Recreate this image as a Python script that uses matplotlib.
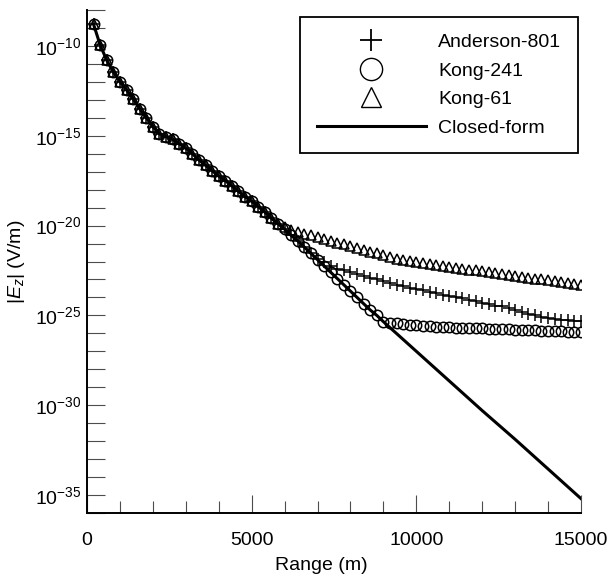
import matplotlib.pyplot as plt
import matplotlib.ticker as mticker
import numpy as np
from matplotlib.lines import Line2D

plt.rcParams["font.family"] = ["Liberation Sans", "DejaVu Sans"]
plt.rcParams["mathtext.fontset"] = "custom"
plt.rcParams["mathtext.rm"] = "Liberation Sans"
plt.rcParams["mathtext.it"] = "Liberation Sans:italic"

# Marker positions (m), one symbol every 200 m
range_m = np.arange(200, 15001, 200)

# log10 |Ez| of the closed-form solution, 200 m .. 9000 m
closed_near = [
    -8.8, -9.95, -10.8, -11.45, -12.0, -12.45, -12.95, -13.5, -14.0, -14.5,
    -14.9, -15.05, -15.2, -15.45, -15.7, -16.0, -16.35, -16.65, -16.95, -17.25,
    -17.5, -17.8, -18.1, -18.4, -18.65, -18.95, -19.25, -19.6, -19.9, -20.2,
    -20.55, -20.85, -21.2, -21.55, -21.9, -22.25, -22.6, -22.95, -23.3, -23.65,
    -24.0, -24.35, -24.7, -25.0, -25.35,
]
# straight part of the closed-form curve beyond 9000 m
closed_far_range = [10000, 11000, 12000, 13000, 14000, 15000]
closed_far = [-27.0, -28.65, -30.3, -31.9, -33.55, -35.2]

# where the numerical results leave the closed-form curve
kong61_tail = [  # 6000 .. 15000 m
    -20.1, -20.25, -20.35, -20.45, -20.55, -20.65, -20.75, -20.85, -20.95, -21.05,
    -21.15, -21.25, -21.35, -21.45, -21.55, -21.65, -21.75, -21.85, -21.9, -21.95,
    -22.05, -22.1, -22.15, -22.2, -22.25, -22.3, -22.35, -22.4, -22.45, -22.5,
    -22.55, -22.6, -22.65, -22.7, -22.75, -22.8, -22.85, -22.9, -22.95, -23.0,
    -23.05, -23.1, -23.15, -23.2, -23.25, -23.3,
]
anderson_tail = [  # 7000 .. 15000 m
    -21.85, -22.05, -22.25, -22.4, -22.5, -22.6, -22.7, -22.8, -22.9, -23.0,
    -23.1, -23.2, -23.3, -23.35, -23.45, -23.55, -23.6, -23.7, -23.75, -23.85,
    -23.9, -24.0, -24.05, -24.15, -24.2, -24.3, -24.35, -24.45, -24.5, -24.6,
    -24.7, -24.8, -24.9, -25.0, -25.1, -25.15, -25.2, -25.25, -25.25, -25.3,
    -25.3,
]
kong241_tail = [  # 9200 .. 15000 m
    -25.4, -25.45, -25.5, -25.55, -25.55, -25.6, -25.6, -25.65, -25.65, -25.65,
    -25.7, -25.7, -25.7, -25.7, -25.7, -25.75, -25.75, -25.75, -25.75, -25.8,
    -25.8, -25.8, -25.8, -25.85, -25.85, -25.85, -25.85, -25.9, -25.9, -25.95,
]

anderson = closed_near[:34] + anderson_tail
kong241 = closed_near[:45] + kong241_tail
kong61 = closed_near[:29] + kong61_tail

closed_range = list(range_m[:45]) + closed_far_range
closed = closed_near + closed_far

fig = plt.figure(figsize=(6.11, 5.8), dpi=100)
ax = fig.add_axes([87 / 611, 1 - 513 / 580, 494 / 611, 503 / 580])

marker_kw = dict(linestyle="none", color="black", markerfacecolor="none", markeredgewidth=1.1)
ax.semilogy(range_m, 10.0 ** np.array(kong61), marker="^", markersize=7.5, **marker_kw)
ax.semilogy(range_m, 10.0 ** np.array(kong241), marker="o", markersize=7.5, **marker_kw)
ax.semilogy(range_m, 10.0 ** np.array(anderson), marker="+", markersize=8.5, **marker_kw)
ax.semilogy(closed_range, 10.0 ** np.array(closed), color="black", linewidth=2.2, zorder=5)

ax.set_xlim(0, 15000)
ax.set_ylim(1e-36, 1e-8)

ax.xaxis.set_major_locator(mticker.MultipleLocator(5000))
ax.xaxis.set_minor_locator(mticker.MultipleLocator(1000))
ax.yaxis.set_major_locator(mticker.FixedLocator([10.0 ** k for k in (-35, -30, -25, -20, -15, -10)]))
ax.yaxis.set_minor_locator(mticker.FixedLocator([10.0 ** k for k in range(-36, -7)]))
ax.yaxis.set_major_formatter(
    mticker.FuncFormatter(lambda v, p: r"$\mathregular{10^{%d}}$" % round(np.log10(v)))
)
ax.yaxis.set_minor_formatter(mticker.NullFormatter())

ax.tick_params(axis="both", which="both", direction="in", colors="0.3", width=0.8,
               labelcolor="black", labelsize=14)
ax.tick_params(axis="x", which="major", length=13, pad=14)
ax.tick_params(axis="x", which="minor", length=9)
ax.tick_params(axis="y", which="both", length=13, pad=4)

for side in ("top", "right"):
    ax.spines[side].set_visible(False)
for side in ("left", "bottom"):
    ax.spines[side].set_linewidth(1.4)

ax.set_xlabel("Range (m)", fontsize=14)
ax.set_ylabel(r"$|E_z|$ (V/m)", fontsize=14)
ax.xaxis.set_label_coords(0.475, -0.088)
ax.yaxis.set_label_coords(-0.122, 0.5)

handles = [
    Line2D([], [], linestyle="none", marker="+", markersize=16, markeredgewidth=1.3, color="black"),
    Line2D([], [], linestyle="none", marker="o", markersize=16, markerfacecolor="none",
           markeredgewidth=1.0, color="black"),
    Line2D([], [], linestyle="none", marker="^", markersize=15, markerfacecolor="none",
           markeredgewidth=1.0, color="black"),
    Line2D([], [], color="black", linewidth=2.2),
]
labels = ["Anderson-801", "Kong-241", "Kong-61", "Closed-form"]
leg = ax.legend(
    handles, labels,
    loc="upper right", bbox_to_anchor=(0.994, 0.986),
    fontsize=14, handlelength=5.6, handletextpad=0.65,
    borderpad=0.85, labelspacing=0.56, borderaxespad=0,
    fancybox=False, framealpha=1, edgecolor="black",
)
leg.get_frame().set_linewidth(1.3)

fig.savefig("out.png", dpi=100)
